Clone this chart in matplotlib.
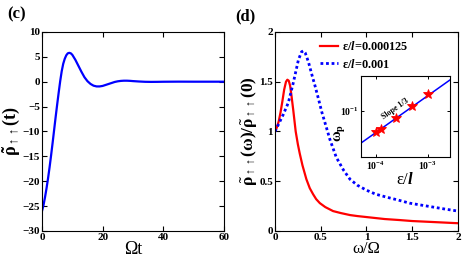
import numpy as np
import matplotlib
matplotlib.use("Agg")
from matplotlib import pyplot as plt

plt.rcParams['font.family'] = ['Liberation Serif', 'DejaVu Serif']
plt.rcParams['font.weight'] = 'bold'
plt.rcParams['mathtext.fontset'] = 'custom'
plt.rcParams['mathtext.rm'] = 'Liberation Serif:bold'
plt.rcParams['mathtext.it'] = 'Liberation Serif:italic:bold'
plt.rcParams['mathtext.bf'] = 'Liberation Serif:bold'

# panel (c): time evolution
t_vals = [0, 0.5, 1, 1.5, 2, 2.5, 3, 3.5, 4, 4.5, 5, 5.5, 6, 6.5, 7, 7.5, 8, 8.5, 9, 9.5,
          10, 11, 12, 13, 14, 15, 16, 17, 18, 19, 20, 21, 22, 23, 24, 25, 26, 27, 28, 29,
          30, 32, 34, 36, 38, 40, 45, 50, 55, 60]
rho_t = [-26, -24.8, -23.2, -21.4, -19.4, -17.2, -14.8, -12.3, -9.7, -7.1, -4.6, -2.2, 0.1, 2.1,
         3.6, 4.6, 5.3, 5.7, 5.8, 5.7, 5.4, 4.4, 3.2, 2.0, 0.9, 0.1, -0.45, -0.8, -0.95, -0.95,
         -0.85, -0.65, -0.45, -0.25, -0.05, 0.08, 0.16, 0.2, 0.2, 0.17, 0.12, 0.04, -0.02, -0.04,
         -0.03, -0.01, 0.01, 0, 0, 0]

# panel (d): spectra
w_red = [0, 0.02, 0.04, 0.06, 0.08, 0.10, 0.12, 0.135, 0.15, 0.165, 0.18, 0.20, 0.226, 0.25,
         0.27, 0.30, 0.343, 0.38, 0.416, 0.45, 0.49, 0.55, 0.635, 0.72, 0.82, 0.9, 1.0, 1.2,
         1.36, 1.5, 1.73, 2.0]
rho_red = [1.0, 1.04, 1.10, 1.19, 1.30, 1.42, 1.50, 1.52, 1.51, 1.46, 1.36, 1.21, 1.0, 0.87,
           0.78, 0.66, 0.52, 0.43, 0.37, 0.32, 0.28, 0.24, 0.20, 0.18, 0.16, 0.15, 0.14, 0.12,
           0.11, 0.10, 0.09, 0.078]
w_blue = [0, 0.037, 0.09, 0.146, 0.2, 0.256, 0.29, 0.31, 0.33, 0.365, 0.40, 0.44, 0.48, 0.51,
          0.565, 0.6, 0.67, 0.75, 0.82, 0.9, 1.0, 1.1, 1.22, 1.35, 1.47, 1.6, 1.73, 1.86, 2.0]
rho_blue = [1.0, 1.07, 1.17, 1.29, 1.49, 1.72, 1.80, 1.81, 1.79, 1.70, 1.58, 1.45, 1.31, 1.20,
            1.03, 0.92, 0.74, 0.61, 0.52, 0.46, 0.41, 0.37, 0.34, 0.31, 0.28, 0.26, 0.24, 0.22, 0.20]

# inset: peak frequency vs eps/l
eps_pts = [1e-4, 1.25e-4, 2.5e-4, 5e-4, 1e-3]
wp_pts = [0.064, 0.068, 0.0865, 0.111, 0.142]
eps_fit = [5.2e-5, 2.68e-3]
wp_fit = [0.0508, 0.189]

fig = plt.figure(figsize=(4.63, 2.69), dpi=100)

tick_kw = dict(direction='in', top=True, right=True, length=3.8, width=0.8, labelsize=8)

# (c)
ax1 = fig.add_axes([0.0907, 0.1413, 0.393, 0.740])
ax1.plot(t_vals, rho_t, color='#0000ff', lw=1.6)
ax1.set_xlim(0, 60)
ax1.set_ylim(-30, 10)
ax1.set_xticks([0, 20, 40, 60])
ax1.set_yticks(np.arange(-30, 11, 5))
ax1.tick_params(pad=1.5, **tick_kw)
ax1.set_xlabel("Ωt", fontsize=13, labelpad=-1)
ax1.set_ylabel(r"$\tilde{\mathrm{\rho}}_{\uparrow\uparrow}\mathrm{(t)}$", fontsize=13, labelpad=0)
fig.text(0.015, 0.945, "(c)", fontsize=12, va='center')

# (d)
ax2 = fig.add_axes([0.594, 0.1413, 0.395, 0.740])
ax2.plot(w_red, rho_red, color='#ff0000', lw=1.6, label=r"ε/$\mathit{l}$=0.000125")
ax2.plot(w_blue, rho_blue, color='#0000ff', lw=2, linestyle=(0, (1, 1)),
         label=r"ε/$\mathit{l}$=0.001")
ax2.set_xlim(0, 2)
ax2.set_ylim(0, 2)
ax2.set_xticks([0, 0.5, 1, 1.5, 2])
ax2.set_xticklabels(["0", "0.5", "1", "1.5", "2"])
ax2.set_yticks([0, 0.5, 1, 1.5, 2])
ax2.set_yticklabels(["0", "0.5", "1", "1.5", "2"])
ax2.tick_params(pad=1.5, **tick_kw)
ax2.set_xlabel("ω/Ω", fontsize=12, labelpad=-1)
ax2.set_ylabel(r"$\tilde{\mathrm{\rho}}_{\uparrow\uparrow}\mathrm{(\omega)/}"
               r"\tilde{\mathrm{\rho}}_{\uparrow\uparrow}\mathrm{(0)}$", fontsize=12.5, labelpad=0)
ax2.legend(loc='upper left', bbox_to_anchor=(0.2, 1.0), frameon=False, fontsize=8.8,
           handlelength=1.5, handletextpad=0.3, labelspacing=0.35, borderaxespad=0.3)
fig.text(0.508, 0.94, "(d)", fontsize=12, va='center')

# inset
ax3 = fig.add_axes([0.7797, 0.4164, 0.192, 0.3012])
ax3.loglog(eps_fit, wp_fit, color='#0000ff', lw=1.1)
ax3.plot(eps_pts, wp_pts, linestyle='none', marker='*', markersize=7.5,
         color='#ff0000', markeredgewidth=0.6)
ax3.set_xlim(eps_fit[0], eps_fit[1])
ax3.set_ylim(0.038, 0.2056)
ax3.set_xticks([1e-4, 1e-3])
ax3.set_yticks([1e-1])
ax3.minorticks_off()
ax3.tick_params(direction='in', top=True, right=True, length=2.5, width=0.7,
                labelsize=7, pad=2)
ax3.set_xlabel(r"ε/$\mathit{l}$", fontsize=12, labelpad=0)
ax3.set_ylabel(r"$\mathrm{\omega_p}$", fontsize=10.5)
ax3.yaxis.set_label_coords(-0.16, 0.3)
ax3.text(2.4e-4, 0.104, "Slope 1/3", fontsize=5.8, rotation=35, ha='center', va='center')

fig.savefig("out.png", dpi=100)
